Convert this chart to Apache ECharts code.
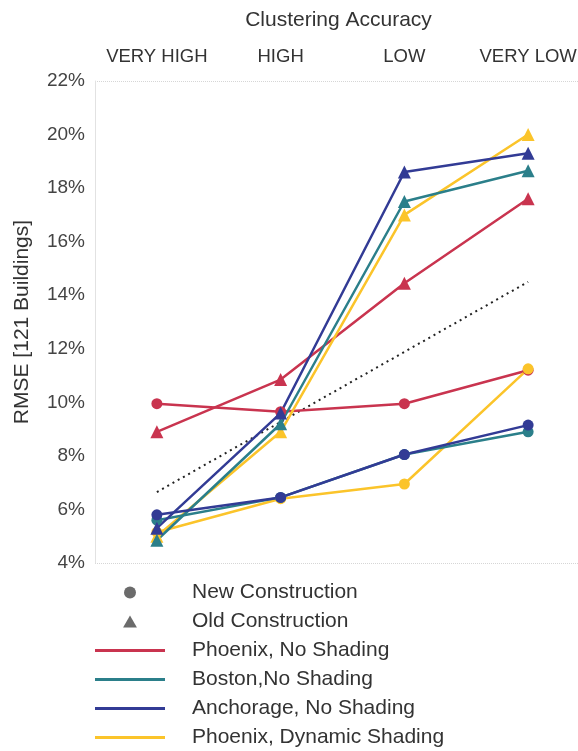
<!DOCTYPE html>
<html>
<head>
<meta charset="utf-8">
<script src="https://cdn.jsdelivr.net/npm/echarts@6/dist/echarts.min.js"></script>
<style>
  html, body { margin: 0; padding: 0; background: #fff; }
  #chart { width: 578px; height: 751px; }
</style>
</head>
<body>
<div id="chart"></div>
<script>
// Clustering accuracy levels (top axis)
var categories = ['VERY HIGH', 'HIGH', 'LOW', 'VERY LOW'];

// RMSE (%) for new construction (circles)
var phoenixNoShadingNew  = [9.95, 9.65, 9.95, 11.2];
var bostonNoShadingNew   = [5.6, 6.45, 8.05, 8.9];
var anchorageNoShadingNew = [5.8, 6.45, 8.05, 9.15];
var phoenixDynamicNew    = [5.15, 6.4, 6.95, 11.25];

// RMSE (%) for old construction (triangles)
var phoenixNoShadingOld  = [8.9, 10.85, 14.45, 17.6];
var bostonNoShadingOld   = [4.85, 9.2, 17.5, 18.65];
var anchorageNoShadingOld = [5.3, 9.6, 18.6, 19.3];
var phoenixDynamicOld    = [5.0, 8.9, 17.0, 20.0];

// Overall trend, drawn between its two end values
var trendLine = [6.65, null, null, 14.5];

var FONT = 'Liberation Sans, Arial, sans-serif';
var RED = '#c9344f', TEAL = '#2b7f8a', NAVY = '#323b95', GOLD = '#fbc42a', GREY = '#6b6b6b';

function citySeries(name, data, color, symbol, size) {
  return {
    name: name, type: 'line', data: data,
    symbol: symbol, symbolSize: size,
    lineStyle: { color: color, width: 2.5 },
    itemStyle: { color: color },
    emphasis: { disabled: true },
    z: 3
  };
}

var series = [
  {
    name: 'trend', type: 'line', data: trendLine, connectNulls: true,
    symbol: 'none', lineStyle: { color: '#222', width: 2, type: [2, 4] },
    emphasis: { disabled: true }, z: 2
  },
  citySeries('Phoenix, No Shading', phoenixNoShadingNew, RED, 'circle', 11),
  citySeries('Phoenix, No Shading', phoenixNoShadingOld, RED, 'triangle', 13),
  citySeries('Phoenix, Dynamic Shading', phoenixDynamicNew, GOLD, 'circle', 11),
  citySeries('Phoenix, Dynamic Shading', phoenixDynamicOld, GOLD, 'triangle', 13),
  citySeries('Boston,No Shading', bostonNoShadingNew, TEAL, 'circle', 11),
  citySeries('Boston,No Shading', bostonNoShadingOld, TEAL, 'triangle', 13),
  citySeries('Anchorage, No Shading', anchorageNoShadingNew, NAVY, 'circle', 11),
  citySeries('Anchorage, No Shading', anchorageNoShadingOld, NAVY, 'triangle', 13),
  // marker-only legend entries
  { name: 'New Construction', type: 'line', data: [], itemStyle: { color: GREY }, lineStyle: { color: GREY } },
  { name: 'Old Construction', type: 'line', data: [], itemStyle: { color: GREY }, lineStyle: { color: GREY } }
];

var lineIcon = 'path://M0,0H70V3H0Z';
var triIcon = 'path://M6,0L12,10.4L0,10.4Z';

var gridColors = ['#d6d6d6'];
for (var i = 0; i < 8; i++) gridColors.push('rgba(0,0,0,0)');
gridColors.push('#d6d6d6');

var option = {
  animation: false,
  backgroundColor: '#ffffff',
  textStyle: { fontFamily: FONT },
  grid: { left: 95, top: 81, width: 495, height: 482, outerBoundsMode: 'none', containLabel: false },
  xAxis: {
    type: 'category', position: 'top', data: categories, boundaryGap: true,
    name: 'Clustering Accuracy', nameLocation: 'middle', nameGap: 50,
    nameTextStyle: { fontSize: 21, color: '#333', fontFamily: FONT, padding: [0, 8, 0, 0] },
    axisLine: { show: false }, axisTick: { show: false },
    axisLabel: { fontSize: 18.5, color: '#333', margin: 15, fontFamily: FONT, interval: 0 },
    splitLine: { show: false }
  },
  yAxis: {
    type: 'value', min: 4, max: 22, interval: 2,
    name: 'RMSE [121 Buildings]', nameLocation: 'middle', nameGap: 62,
    nameTextStyle: { fontSize: 21, color: '#333', fontFamily: FONT },
    axisLine: { show: true, lineStyle: { color: '#e2e2e2', width: 1 } },
    axisTick: { show: false },
    axisLabel: { formatter: '{value}%', fontSize: 19, color: '#444', margin: 10, fontFamily: FONT },
    splitLine: { show: true, lineStyle: { color: gridColors, type: 'dotted', width: 1 } }
  },
  legend: {
    orient: 'vertical', left: 95, top: 582, height: 240, padding: 0,
    itemWidth: 70, itemHeight: 12, itemGap: 8,
    selectedMode: false,
    itemStyle: { borderWidth: 0 },
    textStyle: { fontSize: 21, color: '#333', lineHeight: 21, padding: [0, 0, 0, 22], fontFamily: FONT },
    data: [
      { name: 'New Construction', icon: 'circle' },
      { name: 'Old Construction', icon: triIcon },
      { name: 'Phoenix, No Shading', icon: lineIcon },
      { name: 'Boston,No Shading', icon: lineIcon },
      { name: 'Anchorage, No Shading', icon: lineIcon },
      { name: 'Phoenix, Dynamic Shading', icon: lineIcon }
    ]
  },
  series: series
};

var chart = echarts.init(document.getElementById('chart'), null, { renderer: 'canvas' });
chart.setOption(option);
</script>
</body>
</html>
